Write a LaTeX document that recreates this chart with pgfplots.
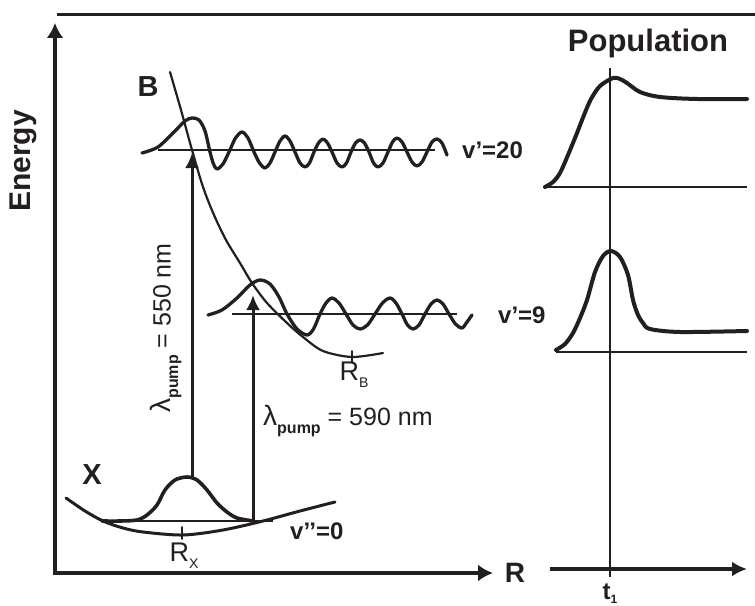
\documentclass[border=0pt]{standalone}
\usepackage{pgfplots}
\pgfplotsset{compat=1.18}
\usetikzlibrary{arrows.meta}
\usepackage{fontspec}
\setmainfont{Liberation Sans}
\definecolor{ink}{RGB}{35,31,32}
\newcommand{\fs}[1]{\fontsize{#1bp}{#1bp}\selectfont}
\begin{document}
\begin{tikzpicture}
\begin{axis}[width=755bp,height=606bp,scale only axis,
  xmin=0,xmax=755,ymin=0,ymax=606,y dir=reverse,
  axis lines=none,clip=false,no markers,
  every axis plot/.append style={ink,line join=round,line cap=round}]
% frame lines
\addplot[line width=3bp,line cap=butt] coordinates {(57,15) (755,15)};
\addplot[line width=3.6bp,line cap=butt,-{Latex[length=15bp,width=17bp]}] coordinates {(55,575) (55,23)};
\addplot[line width=3.6bp,line cap=butt,-{Latex[length=15bp,width=17bp]}] coordinates {(53.2,573) (493,573)};
% B potential
\addplot[line width=2.2bp,smooth] coordinates {(170,72) (181,110) (192,150) (203,187) (214,215) (226,240) (240,263) (252,283) (267,303) (287,323) (303,337) (323,351) (352,357) (383,353)};
\addplot[line width=1.8bp] coordinates {(352,351) (352,362)};
% X potential
\addplot[line width=3bp,smooth] coordinates {(66,498) (85,511) (103,521) (123,528) (143,532) (183,535) (223,530) (263,521) (300,511) (335,502)};
\addplot[line width=1.8bp] coordinates {(182,527) (182,539)};
% baselines
\addplot[line width=1.9bp,line cap=butt] coordinates {(158,150) (435,150)};
\addplot[line width=1.9bp,line cap=butt] coordinates {(232,314) (457,314)};
\addplot[line width=1.9bp,line cap=butt] coordinates {(102,521) (273,521)};
% v'=20 packet
\addplot[line width=3.3bp,smooth] coordinates {(142,153) (158,147) (174,132) (185,121) (192,118) (199,120) (205,131) (210,152) (213.5,164) (217,169) (223,164) (229,152) (235.5,138) (242,132) (248,138) (254,152) (259.5,163) (265,168) (270,163) (275,152) (280,141) (285,136) (290,141) (295,152) (300,163) (305,167) (309.5,163) (314,152) (318.5,143) (323,139) (327.5,143) (332,152) (337,163) (342,167) (346.5,163) (351,152) (355.5,143) (360,140) (364.5,143) (369,152) (373.5,163) (378,167) (383,163) (388,152) (392.5,142) (397,138) (402,142) (407,152) (412,162) (417,166) (422,162) (427,152) (432,142) (437,139) (442,143) (447,155)};
% v'=9 packet
\addplot[line width=3.3bp,smooth] coordinates {(208,315) (222,310) (237,298) (250,285) (260,280) (270,284) (279,297) (287,314) (297,329) (307,335) (313.5,329) (320,314) (326,303) (332,298) (339,303) (346,314) (353,325) (360,329) (367.5,325) (375,314) (382.5,303) (390,298) (396,303) (402,314) (407.5,325) (413,329) (419,325) (425,314) (431,304) (437,300) (443,304) (449,314) (455.5,324) (462,328) (467,322) (472,315)};
% X packet
\addplot[line width=3.6bp,smooth] coordinates {(102,521) (120,521) (137,520) (147,515) (157,505) (165,490) (175,480) (187,477) (197,480) (207,490) (217,503) (227,512) (237,518) (253,521)};
% pump arrows
\addplot[line width=3bp,line cap=butt,-{Latex[length=15bp,width=14bp]}] coordinates {(192,477) (192,153)};
\addplot[line width=3bp,line cap=butt,-{Latex[length=15bp,width=14bp]}] coordinates {(253,520) (253,295)};
% population panel
\addplot[line width=2.6bp,line cap=butt] coordinates {(610,68) (610,577)};
\addplot[line width=2.4bp,line cap=butt] coordinates {(545,187) (747,187)};
\addplot[line width=2.4bp,line cap=butt] coordinates {(556,352) (747,352)};
\addplot[line width=3.4bp,line cap=butt,-{Latex[length=15bp,width=15bp]}] coordinates {(550,569) (747,569)};
\addplot[line width=4bp,smooth] coordinates {(545,187) (553,182) (560,173) (568,155) (577,133) (584,115) (591,99) (600,86) (613,78) (620,79) (627,83) (640,92) (660,97) (697,99) (747,99)};
\addplot[line width=4bp,smooth] coordinates {(556,350) (565,344) (573,333) (580,318) (587,300) (595,272) (603,256) (611,251) (620,257) (628,275) (633,300) (638,315) (643,323) (650,329) (680,332) (747,331)};
% texts
\node[ink,rotate=90,font=\fs{30}\bfseries] at (axis cs:23,161) {Energy};
\node[ink,font=\fs{31}\bfseries] at (axis cs:648,43) {Population};
\node[ink,font=\fs{29}\bfseries] at (axis cs:148,87) {B};
\node[ink,font=\fs{29}\bfseries] at (axis cs:92,475) {X};
\node[ink,font=\fs{24}\bfseries,anchor=west,inner sep=0pt] at (axis cs:462,150) {v’=20};
\node[ink,font=\fs{24}\bfseries,anchor=west,inner sep=0pt] at (axis cs:498,315) {v’=9};
\node[ink,font=\fs{24}\bfseries,anchor=west,inner sep=0pt] at (axis cs:290,531) {v’’=0};
\node[ink,font=\fs{28}\bfseries] at (axis cs:515,573) {R};
\node[ink,font=\fs{24}\bfseries,anchor=south,inner sep=0pt] at (axis cs:610,604) {t\raisebox{-0.2em}{\fs{12}1}};
\node[ink,font=\fs{27},anchor=north,inner sep=0pt] at (axis cs:184,543) {R\raisebox{-0.25em}{\fs{14}X}};
\node[ink,font=\fs{27},anchor=north,inner sep=0pt] at (axis cs:354,362) {R\raisebox{-0.25em}{\fs{14}B}};
\node[ink,rotate=90,font=\fs{25}] at (axis cs:166,328) {{\fs{28}λ}\raisebox{-0.3em}{\fs{16}\bfseries pump} = 550 nm};
\node[ink,font=\fs{25},anchor=west,inner sep=0pt] at (axis cs:263,421) {{\fs{28}λ}\raisebox{-0.3em}{\fs{16}\bfseries pump} = 590 nm};
\coordinate (bl) at (axis cs:0,606);
\coordinate (tr) at (axis cs:755,0);
\end{axis}
\pgfresetboundingbox
\path (bl) rectangle (tr);
\end{tikzpicture}
\end{document}
